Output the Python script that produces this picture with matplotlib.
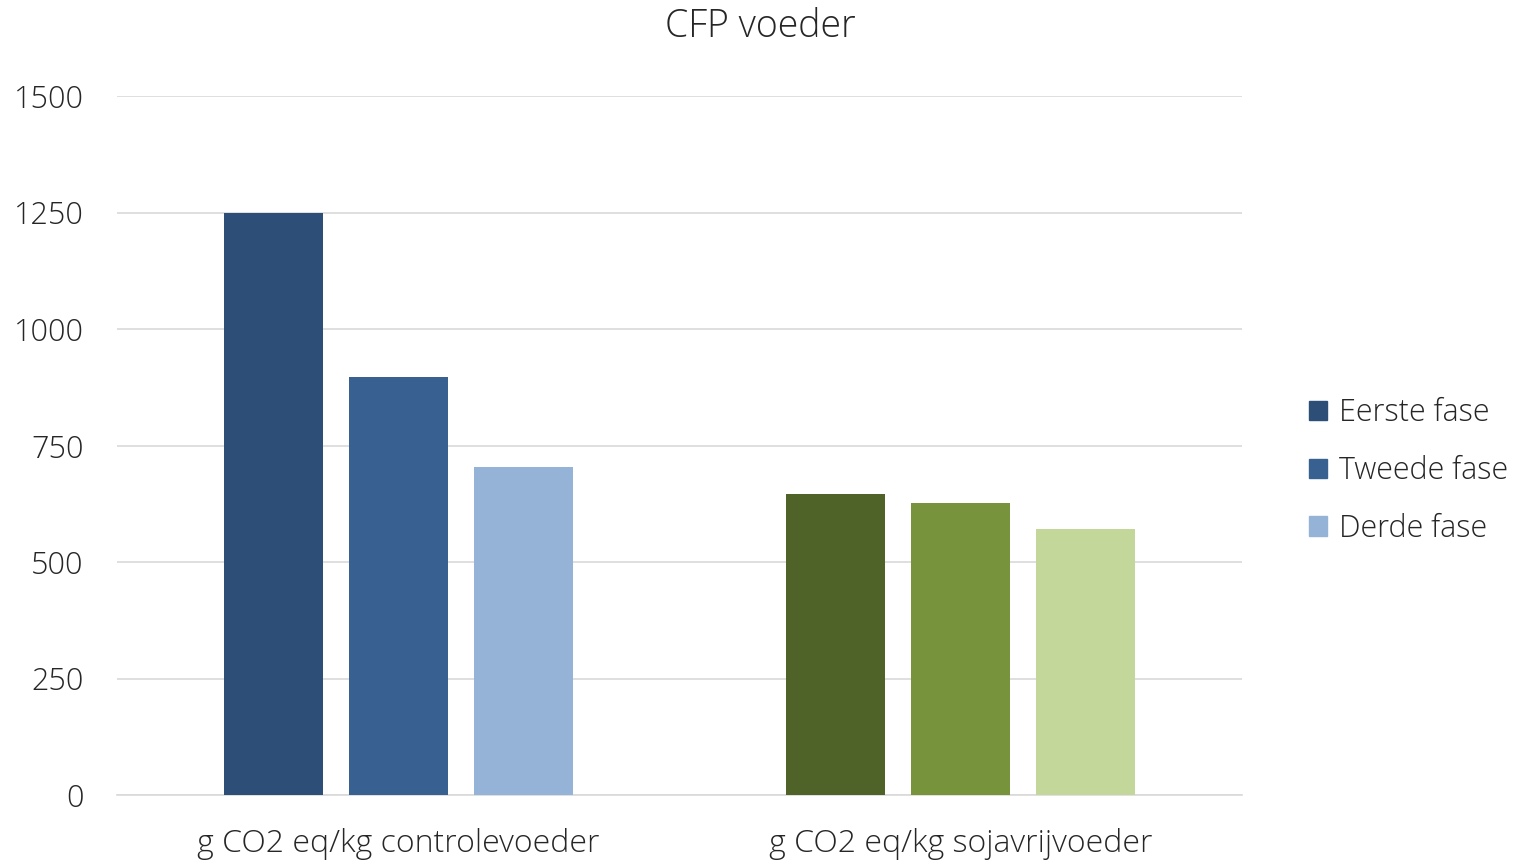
import numpy as np
import matplotlib
matplotlib.use("Agg")
import matplotlib.pyplot as plt
from matplotlib.patches import Patch

plt.rcParams['font.family'] = ['Open Sans', 'DejaVu Sans']

categories = ['g CO2 eq/kg controlevoeder', 'g CO2 eq/kg sojavrijvoeder']
series = ['Eerste fase', 'Tweede fase', 'Derde fase']
eerste = [1250, 646]
tweede = [897, 627]
derde = [704, 571]
values = [eerste, tweede, derde]

# colour per series, per category (blue for control, green for soy-free)
colors = [['#2D4E76', '#4F6228'],
          ['#386192', '#77933C'],
          ['#95B3D7', '#C4D79B']]

fig = plt.figure(figsize=(15.21, 8.61), dpi=100)
ax = fig.add_axes([117/1521, 1 - 795/861, 1125/1521, 699/861])

x = np.arange(len(categories))
w = 0.176
step = 0.222
for i, vals in enumerate(values):
    ax.bar(x + (i - 1) * step, vals, width=w, color=colors[i], zorder=3)

ax.set_xlim(-0.5, 1.5)
ax.set_ylim(0, 1500)
ax.set_yticks([0, 250, 500, 750, 1000, 1250, 1500])
ax.set_xticks(x)
ax.set_xticklabels(categories)
ax.grid(axis='y', color='#D9D9D9', linewidth=1.2, zorder=0)
for s in ['top', 'right', 'left']:
    ax.spines[s].set_visible(False)
ax.spines['bottom'].set_color('#D9D9D9')
ax.spines['bottom'].set_linewidth(1.2)
ax.tick_params(axis='both', length=0, labelsize=22, colors='#262626')
ax.tick_params(axis='x', pad=24, labelsize=23)
ax.tick_params(axis='y', pad=24)
for lab in ax.get_yticklabels() + ax.get_xticklabels():
    lab.set_fontweight('light')

fig.text(760/1521, 1 - 27/861, 'CFP voeder', ha='center', va='center',
         fontsize=27, color='#262626', fontweight='light')

handles = [Patch(color=colors[i][0]) for i in range(3)]
leg = fig.legend(handles, series, loc='center left', bbox_to_anchor=(1281/1521, 1 - 471/861),
                 frameon=False, fontsize=22, handlelength=0.6, handleheight=0.6,
                 handletextpad=0.4, labelspacing=0.85, labelcolor='#262626')
for t in leg.get_texts():
    t.set_fontweight('light')

fig.savefig('out.png', dpi=100)
